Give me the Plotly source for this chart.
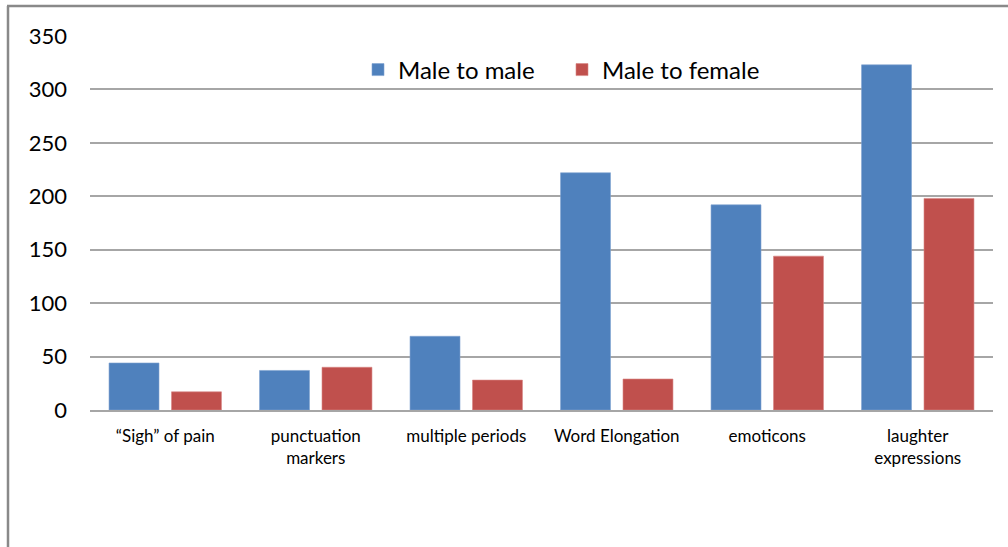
import plotly.graph_objects as go

categories = ["“Sigh” of pain", "punctuation<br>markers", "multiple periods",
              "Word Elongation", "emoticons", "laughter<br>expressions"]
male_to_male = [44, 37, 69, 222, 192, 323]
male_to_female = [17, 40, 28, 29, 144, 198]
y_ticks = [0, 50, 100, 150, 200, 250, 300, 350]

FONT = "Lato, 'Open Sans', sans-serif"

fig = go.Figure()
fig.add_trace(go.Bar(name="Male to male", x=categories, y=male_to_male,
                     marker=dict(color="#4F81BD", line=dict(color="#7FA3D0", width=0.6))))
fig.add_trace(go.Bar(name="Male to female", x=categories, y=male_to_female,
                     marker=dict(color="#C0504D", line=dict(color="#D88784", width=0.6))))

W, H = 1008, 547
L, R, T, B = 90, 1008 - 993, 36, 547 - 410
pw, ph = W - L - R, H - T - B

def px(x):
    return (x - L) / pw

def py(y):
    return (H - B - y) / ph

fig.update_layout(
    width=W, height=H,
    margin=dict(l=L, r=R, t=T, b=B),
    paper_bgcolor="white", plot_bgcolor="white",
    barmode="group", bargap=0.17, bargroupgap=0.2,
    font=dict(family=FONT, color="#000000"),
    showlegend=True,
    legend=dict(orientation="h", x=px(358), y=py(70), xanchor="left", yanchor="middle",
                font=dict(size=24, family=FONT), bgcolor="rgba(0,0,0,0)",
                itemwidth=30, tracegroupgap=0, entrywidth=159),
    xaxis=dict(showgrid=False, showline=True, linecolor="#A6A6A6", linewidth=1.5,
               ticks="", tickfont=dict(size=17, family=FONT), ticklabelstandoff=10),
    yaxis=dict(range=[0, 350], tickvals=y_ticks, showgrid=True, gridcolor="#A6A6A6",
               gridwidth=1.5, zeroline=False, showline=False, ticks="",
               tickfont=dict(size=22, family=FONT), ticklabelstandoff=22),
    shapes=[
        dict(type="line", xref="paper", yref="paper", x0=px(7), x1=px(1020),
             y0=py(6), y1=py(6), line=dict(color="#898989", width=2.5)),
        dict(type="line", xref="paper", yref="paper", x0=px(8), x1=px(8),
             y0=py(6), y1=py(560), line=dict(color="#898989", width=2.5)),
    ],
)

fig.write_html("out.html", config={"displayModeBar": False},
               post_script="document.body.style.margin='0';document.body.style.padding='0';")
